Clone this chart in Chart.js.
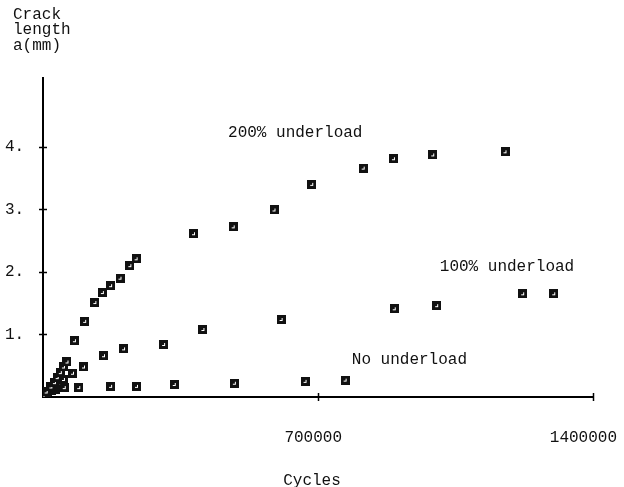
<!DOCTYPE html>
<html>
<head>
<meta charset="utf-8">
<script src="https://cdn.jsdelivr.net/npm/chart.js@4/dist/chart.umd.min.js"></script>
<style>
  html, body { margin: 0; padding: 0; background: #fff; }
  #wrap { width: 624px; height: 487px; }
</style>
</head>
<body>
<div id="wrap"><canvas id="c" width="624" height="487"></canvas></div>
<script>
// Crack length a (mm) against load cycles for three underload conditions
const under200Cycles = [0, 8000, 20000, 29000, 36000, 44000, 52000, 61000, 80000, 106000, 132000, 151000, 172000, 196000, 221000, 237000, 383000, 484000, 588000, 684000, 815000, 892000, 992000, 1176000];
const under200Length = [0, 0.08, 0.16, 0.23, 0.31, 0.39, 0.48, 0.56, 0.90, 1.21, 1.51, 1.67, 1.78, 1.90, 2.10, 2.21, 2.61, 2.72, 2.99, 3.40, 3.66, 3.81, 3.87, 3.92];

const under100Cycles = [0, 12000, 26000, 40000, 52000, 75000, 103000, 154000, 205000, 307000, 407000, 606000, 894000, 1002000, 1221000, 1300000];
const under100Length = [0, 0.08, 0.15, 0.23, 0.28, 0.38, 0.48, 0.66, 0.77, 0.84, 1.08, 1.24, 1.41, 1.46, 1.65, 1.65];

const noUnderCycles = [0, 10000, 22000, 33000, 54000, 91000, 172000, 238000, 334000, 487000, 667000, 769000];
const noUnderLength = [0, 0.05, 0.10, 0.12, 0.15, 0.15, 0.17, 0.17, 0.20, 0.22, 0.25, 0.27];

const xTicks = [700000, 1400000];
const yTicks = [1, 2, 3, 4];

const seriesNames = ['200% underload', '100% underload', 'No underload'];
// where each series name is written, in data units (cycles, mm)
const nameCycles = [471000, 1010000, 786000];
const nameLength = [4.22, 2.08, 0.59];

const FONT = '"Liberation Mono", "DejaVu Sans Mono", monospace';

function pairs(xs, ys) { return xs.map((x, i) => ({ x: x, y: ys[i] })); }

// small filled square with a white hook, used as the plotting symbol
function makeMarker() {
  const c = document.createElement('canvas');
  c.width = 9; c.height = 9;
  const g = c.getContext('2d');
  g.fillStyle = '#111';
  g.fillRect(0, 0, 9, 9);
  g.fillStyle = '#fff';
  g.fillRect(5, 3, 1, 3);
  g.fillRect(3, 5, 3, 1);
  return c;
}
const marker = makeMarker();

const crossTicks = {
  id: 'crossTicks',
  afterDraw(chart) {
    const ctx = chart.ctx;
    const xs = chart.scales.x, ys = chart.scales.y;
    const x0 = xs.getPixelForValue(0), y0 = ys.getPixelForValue(0);
    ctx.save();
    ctx.strokeStyle = '#000';
    ctx.lineWidth = 1.5;
    yTicks.forEach(v => {
      const p = Math.round(ys.getPixelForValue(v)) + 0.5;
      ctx.beginPath(); ctx.moveTo(x0 - 4, p); ctx.lineTo(x0 + 4, p); ctx.stroke();
    });
    xTicks.forEach(v => {
      const p = Math.round(xs.getPixelForValue(v)) + 0.5;
      ctx.beginPath(); ctx.moveTo(p, y0 - 4); ctx.lineTo(p, y0 + 4); ctx.stroke();
    });
    ctx.restore();
  }
};

const textLabels = {
  id: 'textLabels',
  afterDraw(chart) {
    const ctx = chart.ctx;
    const xs = chart.scales.x, ys = chart.scales.y;
    ctx.save();
    ctx.fillStyle = '#111';
    ctx.font = '16px ' + FONT;
    ctx.textBaseline = 'middle';
    ctx.textAlign = 'left';
    seriesNames.forEach((t, i) => {
      ctx.fillText(t, xs.getPixelForValue(nameCycles[i]), ys.getPixelForValue(nameLength[i]));
    });
    // axis titles
    ctx.fillText('Crack', 13, 15);
    ctx.fillText('length', 13, 30);
    ctx.fillText('a(mm)', 13, 46);
    ctx.textAlign = 'center';
    ctx.fillText('Cycles', 312, 481);
    ctx.restore();
  }
};

const pointStyleOpts = { pointStyle: marker, pointRadius: 4.5, showLine: false };

new Chart(document.getElementById('c'), {
  type: 'scatter',
  data: {
    datasets: [
      Object.assign({ label: seriesNames[0], data: pairs(under200Cycles, under200Length) }, pointStyleOpts),
      Object.assign({ label: seriesNames[1], data: pairs(under100Cycles, under100Length) }, pointStyleOpts),
      Object.assign({ label: seriesNames[2], data: pairs(noUnderCycles, noUnderLength) }, pointStyleOpts)
    ]
  },
  options: {
    responsive: false,
    animation: false,
    devicePixelRatio: 1,
    layout: { padding: { left: 5, right: 31, top: 78, bottom: 0 } },
    plugins: { legend: { display: false }, tooltip: { enabled: false } },
    scales: {
      x: {
        type: 'linear',
        min: 0, max: 1400000,
        grid: { display: false, drawTicks: false },
        border: { display: true, color: '#000', width: 2 },
        afterBuildTicks: s => { s.ticks = xTicks.map(v => ({ value: v })); },
        afterFit: s => { s.height = 90; s.paddingLeft = 0; s.paddingRight = 0; },
        ticks: {
          color: '#111',
          font: { family: FONT, size: 16 },
          padding: 31,
          align: 'end',
          labelOffset: 24,
          maxRotation: 0,
          callback: v => String(v)
        }
      },
      y: {
        type: 'linear',
        min: 0, max: 5.1,
        grid: { display: false, drawTicks: false },
        border: { display: true, color: '#000', width: 2 },
        afterBuildTicks: s => { s.ticks = yTicks.map(v => ({ value: v })); },
        afterFit: s => { s.width = 38; s.paddingTop = 0; s.paddingBottom = 0; },
        ticks: {
          color: '#111',
          font: { family: FONT, size: 16 },
          crossAlign: 'far',
          padding: 4,
          callback: v => v + '.'
        }
      }
    }
  },
  plugins: [crossTicks, textLabels]
});
</script>
</body>
</html>
